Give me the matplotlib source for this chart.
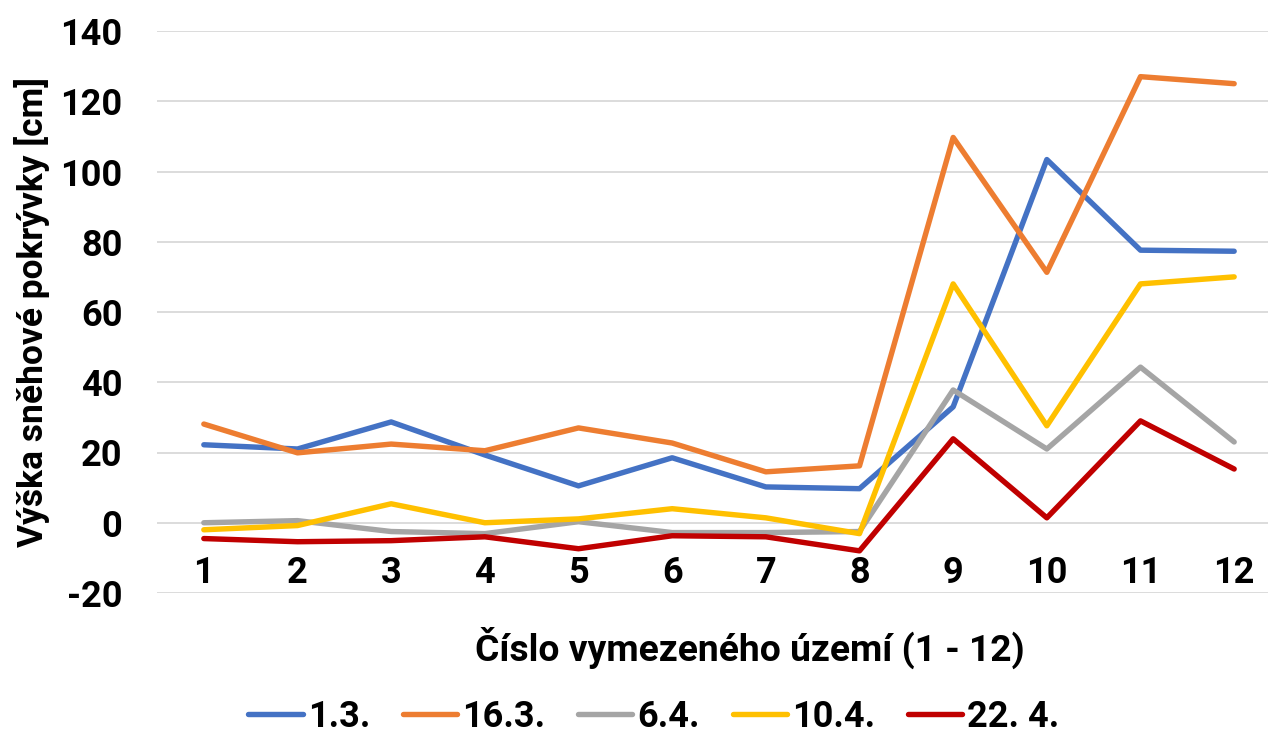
import matplotlib
matplotlib.use("Agg")
import matplotlib.pyplot as plt
from matplotlib.ticker import MultipleLocator

plt.rcParams['font.family'] = ['Roboto', 'DejaVu Sans']
plt.rcParams['axes.unicode_minus'] = False

categories = ['1', '2', '3', '4', '5', '6', '7', '8', '9', '10', '11', '12']
series_names = ['1.3.', '16.3.', '6.4.', '10.4.', '22. 4.']
s_0103 = [22.2, 21.0, 28.7, 19.3, 10.5, 18.5, 10.2, 9.7, 33.0, 103.4, 77.6, 77.3]
s_1603 = [28.1, 19.9, 22.4, 20.5, 27.0, 22.7, 14.5, 16.2, 109.7, 71.3, 127.0, 125.0]
s_0604 = [0.0, 0.6, -2.5, -3.1, 0.3, -2.8, -2.8, -2.5, 37.8, 21.0, 44.3, 23.0]
s_1004 = [-2.0, -0.8, 5.4, 0.0, 1.1, 4.0, 1.4, -3.1, 68.0, 27.6, 68.0, 70.0]
s_2204 = [-4.5, -5.4, -5.1, -4.0, -7.4, -3.7, -4.0, -8.0, 23.9, 1.4, 29.0, 15.3]
colors = ['#4472C4', '#ED7D31', '#A5A5A5', '#FFC000', '#C00000']

fig = plt.figure(figsize=(12.68, 7.38), dpi=100)
ax = fig.add_axes([157/1268, (738-593)/738, 1124/1268, 562/738])

x = list(range(1, len(categories) + 1))
for name, vals, c in zip(series_names, [s_0103, s_1603, s_0604, s_1004, s_2204], colors):
    ax.plot(x, vals, color=c, lw=3.9, label=name, solid_joinstyle='round', solid_capstyle='round')

ax.set_xlim(0.5, 12.5)
ax.set_ylim(-20, 140)
ax.yaxis.set_major_locator(MultipleLocator(20))
ax.grid(axis='y', color='#D9D9D9', lw=1.3)
ax.set_axisbelow(True)
for s in ['top', 'right', 'left']:
    ax.spines[s].set_visible(False)
ax.spines['bottom'].set_position(('data', 0))
ax.spines['bottom'].set_visible(False)
ax.set_xticks(x)
ax.set_xticklabels(categories)
ax.tick_params(axis='x', length=0, pad=23, labelsize=26)
ax.tick_params(axis='y', length=0, pad=25, labelsize=26)
for lab in ax.get_xticklabels() + ax.get_yticklabels():
    lab.set_fontweight('bold')

ax.set_ylabel('Výška sněhové pokrývky [cm]', fontsize=25.5, fontweight='bold', labelpad=7)
fig.text(750/1268, 1 - 648/738, 'Číslo vymezeného území (1 - 12)', fontsize=26.8,
         fontweight='bold', ha='center', va='center')

leg = fig.legend(loc='center', bbox_to_anchor=(654/1268, 1 - 717/738), ncol=5,
                 frameon=False, prop={'size': 26, 'weight': 'bold'},
                 handlelength=1.5, handletextpad=0.15, columnspacing=0.9)
for h in leg.get_lines():
    h.set_solid_capstyle('round')

fig.savefig('out.png', dpi=100)
